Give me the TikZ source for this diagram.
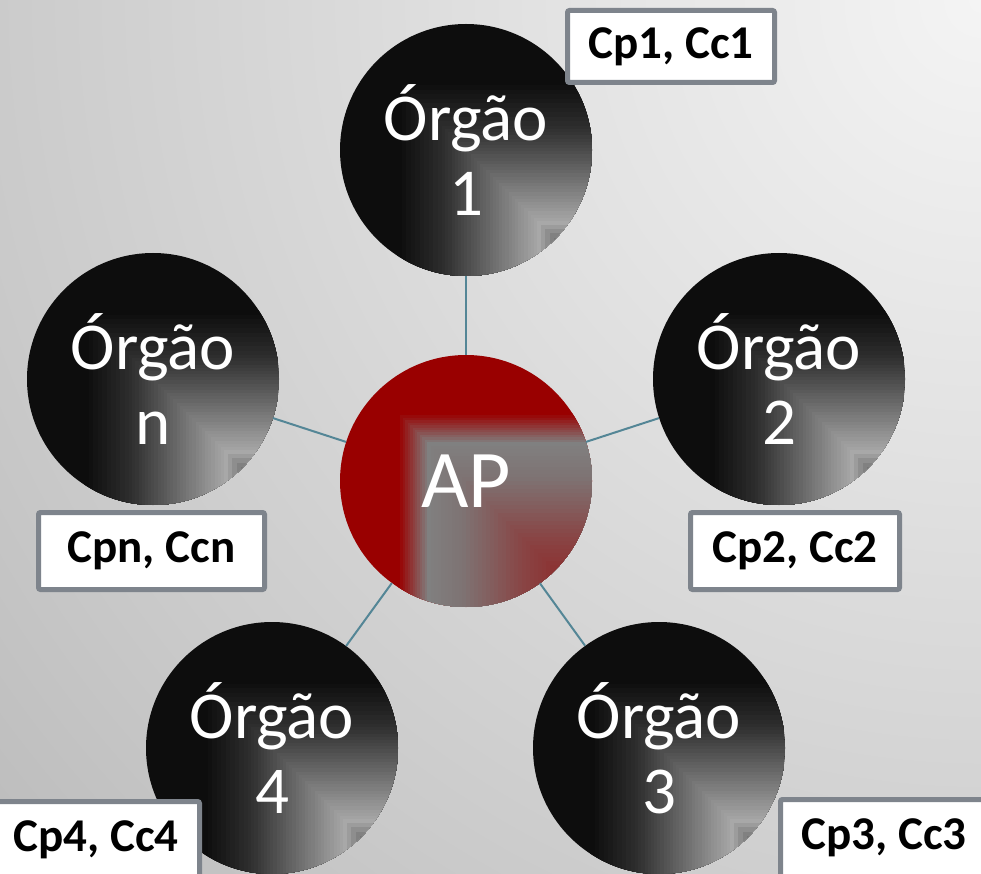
\documentclass[tikz,border=0pt]{standalone}
\usepackage{fontspec}
\setmainfont{Carlito}
\usetikzlibrary{calc}
\definecolor{bgA}{HTML}{F4F4F4}
\definecolor{bgB}{HTML}{E2E2E2}
\definecolor{bgC}{HTML}{CACACA}
\definecolor{bgD}{HTML}{B0B0B0}
\definecolor{bgE}{HTML}{9C9C9C}
\definecolor{bgF}{HTML}{8C8C8C}
\definecolor{orgblack}{HTML}{0D0D0D}
\definecolor{orgmid}{HTML}{2E2E2E}
\definecolor{orglight}{HTML}{A8A8A8}
\definecolor{orgdk}{HTML}{5A5A5A}
\definecolor{apred}{HTML}{990000}
\definecolor{apgray}{HTML}{808080}
\definecolor{apgray2}{HTML}{7E7272}
\definecolor{apmid}{HTML}{894444}
\definecolor{apdark}{HTML}{8E2222}
\definecolor{boxgray}{HTML}{7E848C}
\definecolor{linkcol}{RGB}{84,134,150}
\pgfdeclareradialshading{bgshade}{\pgfpointorigin}{color(0bp)=(bgA); color(8bp)=(bgB); color(18bp)=(bgC); color(28bp)=(bgD); color(36bp)=(bgE); color(50bp)=(bgF)}
% stepped square gradient anchored at the bottom-right corner of a node
\newcommand\rgsteps[5]{%
  \foreach \k in {0,...,#5}{%
    \pgfmathsetmacro\dd{#1+(#2-#1)*\k/#5}%
    \pgfmathtruncatemacro\pp{100*\k/#5}%
    \fill[#4!\pp!#3] (path picture bounding box.south east) rectangle ++(-\dd pt,\dd pt);
  }}
\tikzset{
  organ/.style={circle, minimum size=252pt, inner sep=0pt, fill=orgblack, text=white,
    font=\fontsize{67}{75}\selectfont, align=center,
    path picture={\rgsteps{195}{150}{orgblack}{orgmid}{10}\rgsteps{150}{55}{orgmid}{orglight}{30}\rgsteps{55}{30}{orglight}{orgdk}{6}}},
  hubnode/.style={circle, minimum size=252pt, inner sep=0pt, fill=apred, text=white,
    font=\fontsize{82}{90}\selectfont,
    path picture={\rgsteps{194}{165}{apred}{apgray}{12}\rgsteps{165}{130}{apgray}{apgray2}{10}\rgsteps{130}{70}{apgray2}{apmid}{15}\rgsteps{70}{10}{apmid}{apdark}{15}}},
  lbl/.style={draw=boxgray, line width=5pt, fill=white, rounded corners=2pt, inner sep=0pt,
    minimum height=77pt, font=\fontsize{47}{56}\bfseries\selectfont},
  conn/.style={draw=linkcol, line width=2pt}
}
\begin{document}
\begin{tikzpicture}[x=1pt,y=-1pt]
\useasboundingbox (0,0) rectangle (981,874);
\clip (0,0) rectangle (981,874);
\shade[shading=bgshade] (981,0) circle (1400pt);

\node[hubnode] (ap) at (466,481) {AP};
\node[organ] (o1) at (466,150) {Órgão\\1};
\node[organ] (o2) at (779,379) {Órgão\\2};
\node[organ] (o3) at (659,748) {Órgão\\3};
\node[organ] (o4) at (272,748) {Órgão\\4};
\node[organ] (on) at (153,379) {Órgão\\n};

\draw[conn] (ap) -- (o1);
\draw[conn] (ap) -- (o2);
\draw[conn] (ap) -- (o3);
\draw[conn] (ap) -- (o4);
\draw[conn] (ap) -- (on);

\node[lbl, minimum width=207pt, minimum height=72pt] (c1) at (671,46.5) {Cp1, Cc1};
\node[lbl, minimum width=209pt] (c2) at (795,551) {Cp2, Cc2};
\node[lbl, minimum width=226pt] (cn) at (151.5,551) {Cpn, Ccn};
\node[lbl, minimum width=207pt] (c4) at (96,840) {Cp4, Cc4};
\node[lbl, minimum width=207pt] (c3) at (884,838) {Cp3, Cc3};
\end{tikzpicture}
\end{document}
